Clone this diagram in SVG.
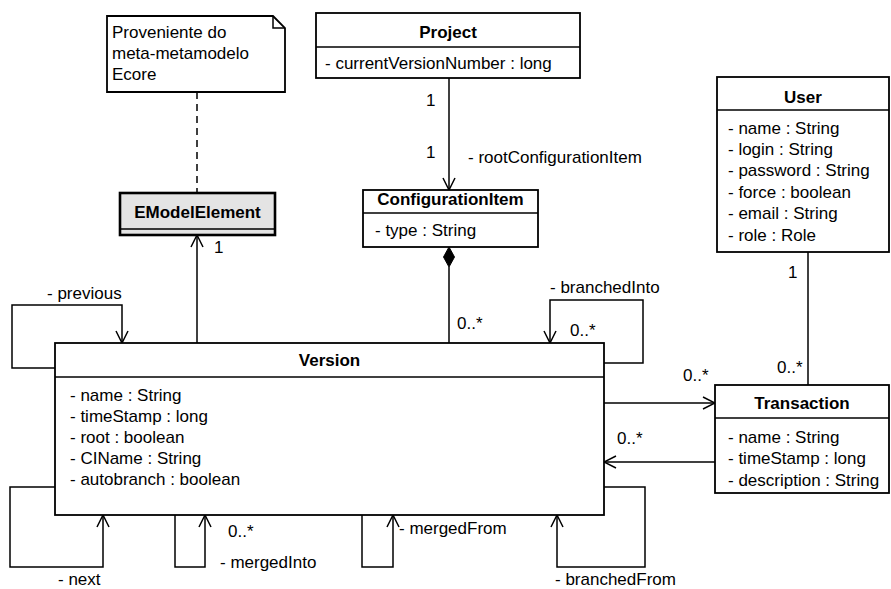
<svg xmlns="http://www.w3.org/2000/svg" width="891" height="589" viewBox="0 0 891 589">
<defs>
<style>
.box{fill:#fff;stroke:#000;stroke-width:1.8}
.imp{fill:#e4e4e4;stroke:#000;stroke-width:2.6}
.sep{stroke:#000;stroke-width:1.3}
.t{font-family:"Liberation Sans",Arial,sans-serif;font-size:17px;fill:#000}
.b{font-weight:bold;text-anchor:middle}
.ln{fill:none;stroke:#000;stroke-width:1.5}
.nav{marker-end:url(#open)}
.dash{stroke-dasharray:7 5}
</style>
<marker id="open" viewBox="0 0 14 14" refX="13" refY="7" markerWidth="14" markerHeight="14" markerUnits="userSpaceOnUse" orient="auto">
<path d="M1,1 L13,7 L1,13" fill="none" stroke="#000" stroke-width="1.5"/>
</marker>
</defs>
<rect width="891" height="589" fill="#fff"/>

<g id="connectors">
<path class="ln dash" d="M197,92 V193"/>
<path class="ln nav" d="M197,343 V235"/>
<path class="ln nav" d="M449,78 V190"/>
<polygon points="449,247 454.5,257 449,267 443.5,257" fill="#000" stroke="#000"/>
<path class="ln" d="M449,267 V343"/>
<path class="ln nav" d="M55,368 H12 V305 H122 V343"/>
<path class="ln nav" d="M604,363 H643 V300 H550 V343"/>
<path class="ln nav" d="M604,403 H715"/>
<path class="ln nav" d="M715,462 H604"/>
<path class="ln" d="M808,252 V385"/>
<path class="ln nav" d="M55,487 H10 V567 H103 V515"/>
<path class="ln nav" d="M175,515 V567 H205 V515"/>
<path class="ln nav" d="M362,515 V567 H393 V515"/>
<path class="ln nav" d="M604,487 H645 V567 H557 V515"/>
<g class="t">
<text x="214" y="253">1</text>
<text x="426" y="106">1</text>
<text x="426" y="158">1</text>
<text x="468" y="163">- rootConfigurationItem</text>
<text x="457" y="329">0..*</text>
<text x="47" y="299">- previous</text>
<text x="550" y="293">- branchedInto</text>
<text x="570" y="336">0..*</text>
<text x="683" y="381">0..*</text>
<text x="617" y="444">0..*</text>
<text x="788" y="278">1</text>
<text x="777" y="373">0..*</text>
<text x="58" y="585">- next</text>
<text x="228" y="537">0..*</text>
<text x="220" y="568">- mergedInto</text>
<text x="399" y="534">- mergedFrom</text>
<text x="555" y="585">- branchedFrom</text>
</g>
</g>

<g id="note">
<path class="box" d="M107,16 H273 L285,28 V92 H107 Z"/>
<path class="ln" d="M273,16 V28 H285"/>
<g class="t">
<text x="112" y="38">Proveniente do</text>
<text x="112" y="59">meta-metamodelo</text>
<text x="112" y="80">Ecore</text>
</g>
</g>

<g id="EModelElement">
<rect class="imp" x="120" y="193" width="155" height="42"/>
<line class="sep" x1="120" y1="229" x2="275" y2="229"/>
<text class="t b" x="197.5" y="218">EModelElement</text>
</g>

<g id="Project">
<rect class="box" x="316" y="13" width="264" height="65"/>
<line class="sep" x1="316" y1="47" x2="580" y2="47"/>
<text class="t b" x="448" y="38">Project</text>
<text class="t" x="325" y="69">- currentVersionNumber : long</text>
</g>

<g id="ConfigurationItem">
<rect class="box" x="363" y="190" width="175" height="57"/>
<line class="sep" x1="363" y1="213" x2="538" y2="213"/>
<text class="t b" x="450.5" y="205">ConfigurationItem</text>
<text class="t" x="375" y="236">- type : String</text>
</g>

<g id="User">
<rect class="box" x="717" y="77" width="172" height="175"/>
<line class="sep" x1="717" y1="110" x2="889" y2="110"/>
<text class="t b" x="803" y="103">User</text>
<g class="t">
<text x="728" y="134">- name : String</text>
<text x="728" y="155">- login : String</text>
<text x="728" y="176">- password : String</text>
<text x="728" y="198">- force : boolean</text>
<text x="728" y="219">- email : String</text>
<text x="728" y="241">- role : Role</text>
</g>
</g>

<g id="Version">
<rect class="box" x="55" y="343" width="549" height="172"/>
<line class="sep" x1="55" y1="377" x2="604" y2="377"/>
<text class="t b" x="329.5" y="366">Version</text>
<g class="t">
<text x="70" y="401">- name : String</text>
<text x="70" y="422">- timeStamp : long</text>
<text x="70" y="443">- root : boolean</text>
<text x="70" y="464">- CIName : String</text>
<text x="70" y="485">- autobranch : boolean</text>
</g>
</g>

<g id="Transaction">
<rect class="box" x="715" y="385" width="174" height="108"/>
<line class="sep" x1="715" y1="418" x2="889" y2="418"/>
<text class="t b" x="802" y="409">Transaction</text>
<g class="t">
<text x="728" y="443">- name : String</text>
<text x="728" y="464">- timeStamp : long</text>
<text x="728" y="486">- description : String</text>
</g>
</g>
</svg>
